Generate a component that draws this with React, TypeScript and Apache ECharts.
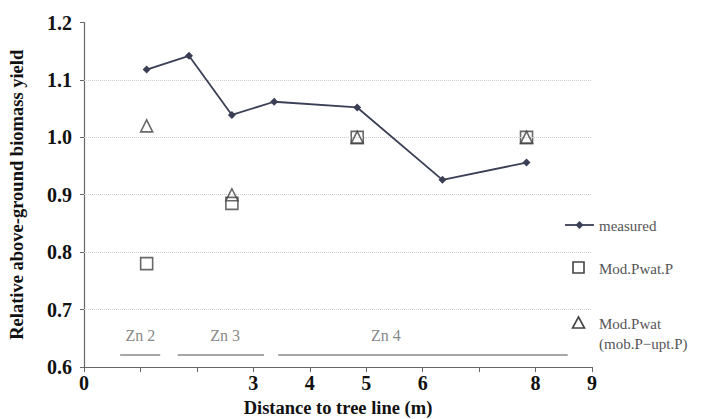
import React, { useEffect, useRef } from "react";
import * as echarts from "echarts";

const measuredX = [1.11, 1.86, 2.62, 3.37, 4.84, 6.35, 7.84];
const measuredY = [1.118, 1.142, 1.039, 1.062, 1.052, 0.926, 0.956];
const modX = [1.11, 2.62, 4.84, 7.84];
const modPwatP = [0.78, 0.885, 1.0, 1.0];
const modPwatMob = [1.02, 0.9, 1.0, 1.0];
const zoneNames = ["Zn 2", "Zn 3", "Zn 4"];
const zoneStart = [0.64, 1.66, 3.44];
const zoneEnd = [1.35, 3.19, 8.57];
const zoneLabelX = [1.0, 2.5, 5.35];
const zoneLineY = 0.621;
const zoneLabelY = 0.655;
const gridValues = [0.7, 0.8, 0.9, 1.0, 1.1];
const hiddenXLabels = [1, 2, 7];
const legendLabels = ["measured", "Mod.Pwat.P", "Mod.Pwat\n(mob.P\u2212upt.P)"];

const SERIF = "'Liberation Serif', 'Times New Roman', serif";
const DARK = "#3b3f55";
const MARK = "#444";

export default function App() {
  const ref = useRef<HTMLDivElement>(null);
  useEffect(() => {
    if (!ref.current) return;
    const chart = echarts.init(ref.current, undefined, { renderer: "svg" });
    const zoneSeries: any[] = zoneNames.map((n, i) => ({
      name: "zone" + i,
      type: "line",
      data: [
        [zoneStart[i], zoneLineY],
        [zoneEnd[i], zoneLineY],
      ],
      symbol: "none",
      lineStyle: { color: "#8a8a8a", width: 1.5 },
      silent: true,
      z: 1,
    }));
    const legTextStyle = { fontFamily: SERIF, fontSize: 15, fill: "#555", lineHeight: 20 };
    chart.setOption({
      animation: false,
      backgroundColor: "#ffffff",
      textStyle: { fontFamily: SERIF },
      grid: {
        left: 84,
        right: 130,
        top: 22.5,
        bottom: 52,
        containLabel: false,
        outerBoundsMode: "none",
      },
      xAxis: {
        type: "value",
        min: 0,
        max: 9,
        interval: 1,
        name: "Distance to tree line (m)",
        nameLocation: "middle",
        nameGap: 31,
        nameTextStyle: { fontFamily: SERIF, fontWeight: "bold", fontSize: 18.5, color: "#111" },
        axisLine: { show: true, lineStyle: { color: "#666", width: 1.2 } },
        axisTick: { show: true, inside: false, length: 5, lineStyle: { color: "#666" } },
        axisLabel: {
          fontFamily: SERIF,
          fontWeight: "bold",
          fontSize: 20,
          color: "#111",
          margin: 6,
          formatter: (v: number) => (hiddenXLabels.indexOf(v) >= 0 ? "" : String(v)),
        },
        splitLine: { show: false },
      },
      yAxis: {
        type: "value",
        min: 0.6,
        max: 1.2,
        interval: 0.1,
        name: "Relative above-ground biomass yield",
        nameLocation: "middle",
        nameGap: 58,
        nameTextStyle: { fontFamily: SERIF, fontWeight: "bold", fontSize: 18.5, color: "#111" },
        axisLine: { show: true, lineStyle: { color: "#666", width: 1.2 } },
        axisTick: { show: true, inside: false, length: 4, lineStyle: { color: "#666" } },
        axisLabel: {
          fontFamily: SERIF,
          fontWeight: "bold",
          fontSize: 20,
          color: "#111",
          margin: 12,
          formatter: (v: number) => v.toFixed(1),
        },
        splitLine: { show: false },
      },
      graphic: [
        { type: "line", shape: { x1: 565, y1: 225, x2: 594, y2: 225 }, style: { stroke: DARK, lineWidth: 1.8 } },
        {
          type: "polygon",
          shape: { points: [[579.5, 221], [583.5, 225], [579.5, 229], [575.5, 225]] },
          style: { fill: DARK },
        },
        { type: "text", left: 599, top: 216, style: { ...legTextStyle, text: legendLabels[0] } },
        { type: "rect", shape: { x: 573, y: 262, width: 11, height: 11 }, style: { fill: "#fff", stroke: MARK, lineWidth: 1.6 } },
        { type: "text", left: 599, top: 259, style: { ...legTextStyle, text: legendLabels[1] } },
        {
          type: "polygon",
          shape: { points: [[578.5, 317], [584.5, 328], [572.5, 328]] },
          style: { fill: "#fff", stroke: MARK, lineWidth: 1.6 },
        },
        { type: "text", left: 599, top: 314, style: { ...legTextStyle, text: legendLabels[2] } },
      ],
      series: [
        ...zoneSeries,
        {
          name: "zoneLabels",
          type: "scatter",
          data: zoneLabelX.map((x, i) => ({ value: [x, zoneLabelY], name: zoneNames[i] })),
          symbolSize: 0,
          silent: true,
          label: {
            show: true,
            position: "inside",
            formatter: (p: any) => p.name,
            fontFamily: SERIF,
            fontSize: 16,
            color: "#666",
          },
        },
        {
          name: "grid",
          type: "line",
          data: [],
          silent: true,
          markLine: {
            silent: true,
            symbol: "none",
            label: { show: false },
            lineStyle: { color: "#cfcfcf", type: "dotted", width: 1 },
            data: gridValues.map((v) => ({ yAxis: v })),
          },
        },
        {
          name: "measured",
          type: "line",
          data: measuredX.map((x, i) => [x, measuredY[i]]),
          symbol: "diamond",
          symbolSize: 8,
          itemStyle: { color: DARK },
          lineStyle: { color: DARK, width: 1.8 },
          z: 5,
        },
        {
          name: "Mod.Pwat.P",
          type: "scatter",
          data: modX.map((x, i) => [x, modPwatP[i]]),
          symbol: "rect",
          symbolSize: 12,
          itemStyle: { color: "#ffffff", borderColor: MARK, borderWidth: 1.6 },
          z: 4,
        },
        {
          name: "Mod.Pwat (mob.P\u2212upt.P)",
          type: "scatter",
          data: modX.map((x, i) => [x, modPwatMob[i]]),
          symbol: "triangle",
          symbolSize: 12,
          itemStyle: { color: "transparent", borderColor: MARK, borderWidth: 1.6 },
          z: 6,
        },
      ],
    });
    return () => chart.dispose();
  }, []);
  return <div ref={ref} style={{ width: 722, height: 419, position: "absolute", left: 0, top: 0 }} />;
}
